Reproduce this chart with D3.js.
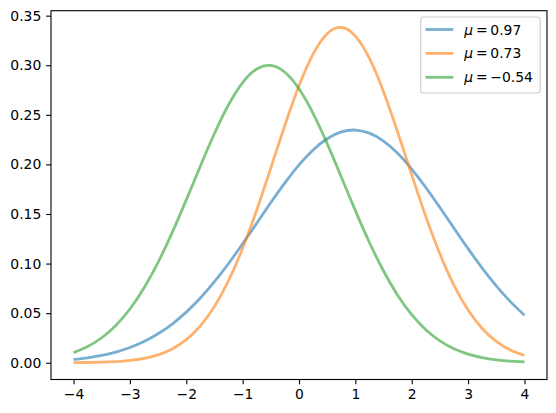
<!DOCTYPE html>
<html><head><meta charset="utf-8">
<script src="https://cdn.jsdelivr.net/npm/d3@7"></script>
<style>body{margin:0;background:#fff}svg{display:block}text{font-family:"DejaVu Sans",sans-serif}</style>
</head><body><svg id="c" width="556" height="413"></svg>
<script>
const xs = [-4,-3.75,-3.5,-3.25,-3,-2.75,-2.5,-2.25,-2,-1.75,-1.5,-1.25,-1,-0.75,-0.5,-0.25,0,0.25,0.5,0.75,1,1.25,1.5,1.75,2,2.25,2.5,2.75,3,3.25,3.5,3.75,4];
const blueY = [0.00327,0.00497,0.0074,0.01077,0.01536,0.02142,0.02923,0.03904,0.05102,0.06526,0.08168,0.10005,0.11993,0.14068,0.1615,0.18142,0.19944,0.21457,0.2259,0.23274,0.23466,0.23154,0.22357,0.21125,0.19535,0.17677,0.15654,0.13566,0.11505,0.09548,0.07755,0.06164,0.04794];
const orangeY = [0.00011,0.00025,0.00055,0.00114,0.00229,0.00437,0.00798,0.01393,0.02326,0.03714,0.05669,0.08272,0.11543,0.15397,0.19639,0.23949,0.27921,0.31127,0.33174,0.33805,0.32937,0.30682,0.27327,0.23269,0.18946,0.14748,0.10977,0.0781,0.05314,0.03457,0.0215,0.01279,0.00727];
const greenY = [0.01017,0.0163,0.0252,0.03763,0.05423,0.07542,0.10126,0.13124,0.16421,0.1983,0.23117,0.26012,0.28255,0.29624,0.29982,0.29292,0.27623,0.25145,0.22093,0.1874,0.15343,0.12126,0.09251,0.06813,0.04842,0.03323,0.022,0.01407,0.00868,0.00517,0.00298,0.00165,0.00088];
const seriesLabels = ["0.97","0.73","\u22120.54"];
const seriesColors = ["#1f77b4","#ff7f0e","#2ca02c"];
const xTicks = [-4,-3,-2,-1,0,1,2,3,4];
const yTicks = [0,0.05,0.10,0.15,0.20,0.25,0.30,0.35];

const svg = d3.select("#c");
const L=51, R=547, T=10.7, B=379.5;
const x = d3.scaleLinear().domain([-4.4,4.4]).range([L,R]);
const y = d3.scaleLinear().domain([-0.0169,0.355]).range([B,T]);
const fs = 13.9, tl = 4.86;
const fmtX = d => (d<0?"\u2212":"")+Math.abs(d);

const gx = svg.append("g").attr("transform",`translate(0,${B})`)
  .call(d3.axisBottom(x).tickValues(xTicks).tickFormat(fmtX).tickSize(tl).tickPadding(4.3));
const gy = svg.append("g").attr("transform",`translate(${L},0)`)
  .call(d3.axisLeft(y).tickValues(yTicks).tickFormat(d3.format(".2f")).tickSize(tl).tickPadding(4.86));
[gx,gy].forEach(g=>{
  g.select(".domain").remove();
  g.selectAll(".tick line").attr("stroke","#000").attr("stroke-width",1.1);
  g.selectAll(".tick text").attr("font-size",fs).attr("fill","#000").attr("font-family","DejaVu Sans");
});

const line = d3.line().curve(d3.curveNatural).x((d,i)=>x(xs[i])).y(d=>y(d));
[blueY,orangeY,greenY].forEach((s,i)=>{
  svg.append("path").attr("d",line(s)).attr("fill","none")
    .attr("stroke",seriesColors[i]).attr("stroke-opacity",0.6).attr("stroke-width",2.78)
    .attr("stroke-linejoin","round").attr("stroke-linecap","butt");
});

svg.append("rect").attr("x",L).attr("y",T).attr("width",R-L).attr("height",B-T)
  .attr("fill","none").attr("stroke","#000").attr("stroke-width",1.1);

// legend
const lg = svg.append("g");
lg.append("rect").attr("x",420.7).attr("y",17).attr("width",119.5).attr("height",76).attr("rx",2.8)
  .attr("fill","#fff").attr("fill-opacity",0.8).attr("stroke","#cccccc").attr("stroke-width",1.1);
seriesLabels.forEach((lab,i)=>{
  const cy = 29.5 + i*23.9;
  lg.append("line").attr("x1",425.5).attr("x2",453.3).attr("y1",cy).attr("y2",cy)
    .attr("stroke",seriesColors[i]).attr("stroke-opacity",0.6).attr("stroke-width",2.78);
  const t = lg.append("text").attr("x",464.3).attr("y",cy+5).attr("font-size",fs).attr("fill","#000");
  t.append("tspan").attr("font-style","italic").text("\u03bc");
  t.append("tspan").text("\u2009=\u2009"+lab);
});
</script></body></html>
